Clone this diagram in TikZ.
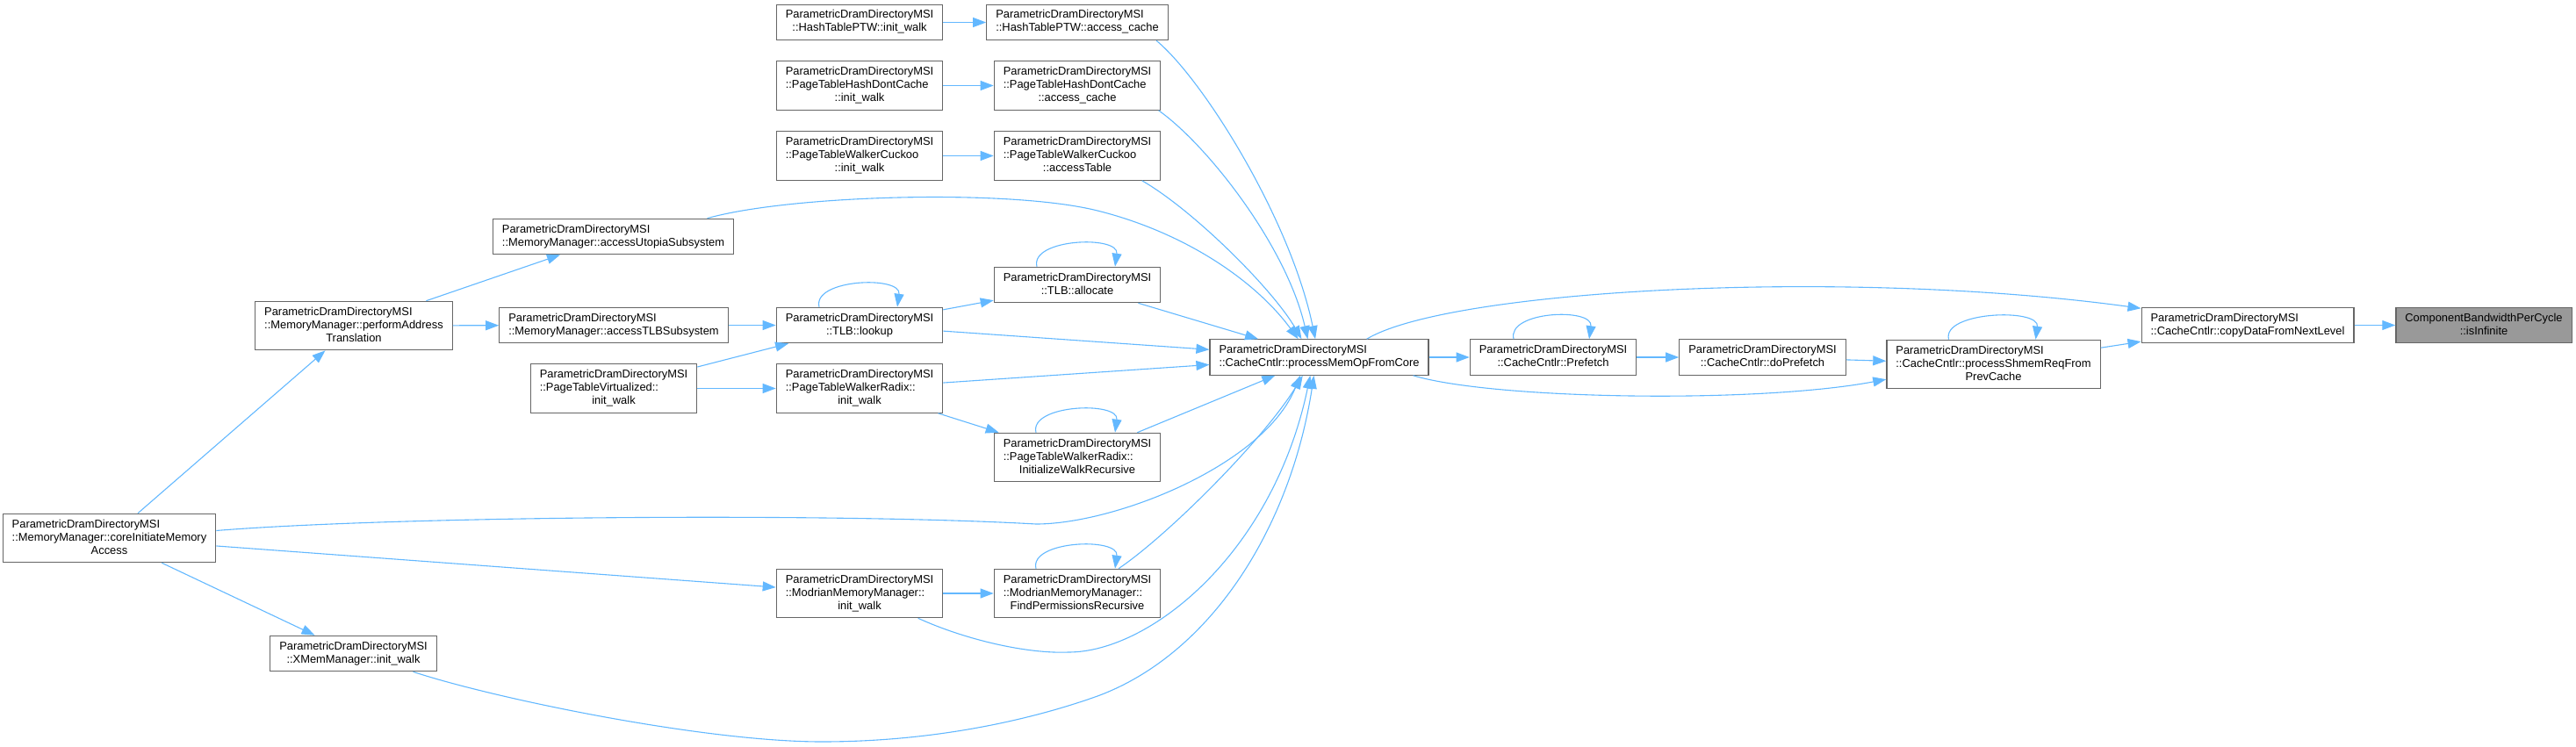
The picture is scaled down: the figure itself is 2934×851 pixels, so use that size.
\documentclass[tikz,border=0pt]{standalone}
\usepackage{fontspec}
\setmainfont{Liberation Sans}
\usepackage{tikz}
\usetikzlibrary{arrows.meta}
\definecolor{edgeBlue}{HTML}{63B8FF}
\definecolor{boxGrey}{HTML}{666666}
\definecolor{focusGrey}{HTML}{999999}
\newcommand{\fnlbl}[2]{\begin{tabular}{@{}l@{}}#1\\\multicolumn{1}{@{}c@{}}{#2}\end{tabular}}
\tikzset{
  fnode/.style={rectangle, draw=boxGrey, fill=white, line width=1.2pt,
                inner xsep=10.5pt, inner ysep=5.2pt,
                font=\fontsize{12.9}{15}\selectfont},
  fnodeF/.style={fnode, fill=focusGrey},
  call/.style={draw=edgeBlue, line width=1.1pt,
               -{Triangle[length=15pt, width=11pt]}},
}

\begin{document}
\begin{tikzpicture}[x=1pt, y=-1pt]
    \useasboundingbox (0,0) rectangle (2934,851);
    %% page table walkers
    \node[fnode] (hashWalk) at (979,25.5) {\fnlbl{ParametricDramDirectoryMSI}{::HashTablePTW::init\_walk}};
    \node[fnode] (hashCache) at (1227,25.5) {\fnlbl{ParametricDramDirectoryMSI}{::HashTablePTW::access\_cache}};
    \node[fnode] (dontWalk) at (979,97.5) {\fnlbl{ParametricDramDirectoryMSI\\::PageTableHashDontCache}{::init\_walk}};
    \node[fnode] (dontCache) at (1227,97.5) {\fnlbl{ParametricDramDirectoryMSI\\::PageTableHashDontCache}{::access\_cache}};
    \node[fnode] (cuckooWalk) at (979,177.5) {\fnlbl{ParametricDramDirectoryMSI\\::PageTableWalkerCuckoo}{::init\_walk}};
    \node[fnode] (cuckooTable) at (1227,177.5) {\fnlbl{ParametricDramDirectoryMSI\\::PageTableWalkerCuckoo}{::accessTable}};
    %% memory manager and TLB
    \node[fnode] (utopia) at (698.5,269.5) {\fnlbl{ParametricDramDirectoryMSI}{::MemoryManager::accessUtopiaSubsystem}};
    \node[fnode] (perform) at (403,371) {\fnlbl{ParametricDramDirectoryMSI\\::MemoryManager::performAddress}{Translation}};
    \node[fnode] (tlbSub) at (699,370.5) {\fnlbl{ParametricDramDirectoryMSI}{::MemoryManager::accessTLBSubsystem}};
    \node[fnode] (lookup) at (979,370.5) {\fnlbl{ParametricDramDirectoryMSI}{::TLB::lookup}};
    \node[fnode] (allocate) at (1227,324.5) {\fnlbl{ParametricDramDirectoryMSI}{::TLB::allocate}};
    \node[fnode] (virtWalk) at (699,442.5) {\fnlbl{ParametricDramDirectoryMSI\\::PageTableVirtualized::}{init\_walk}};
    \node[fnode] (radixWalk) at (979,442.5) {\fnlbl{ParametricDramDirectoryMSI\\::PageTableWalkerRadix::}{init\_walk}};
    \node[fnode] (radixInit) at (1227,521) {\fnlbl{ParametricDramDirectoryMSI\\::PageTableWalkerRadix::}{InitializeWalkRecursive}};
    \node[fnode] (coreAccess) at (124.5,613) {\fnlbl{ParametricDramDirectoryMSI\\::MemoryManager::coreInitiateMemory}{Access}};
    \node[fnode] (modrianWalk) at (979,676) {\fnlbl{ParametricDramDirectoryMSI\\::ModrianMemoryManager::}{init\_walk}};
    \node[fnode] (modrianFind) at (1227,676) {\fnlbl{ParametricDramDirectoryMSI\\::ModrianMemoryManager::}{FindPermissionsRecursive}};
    \node[fnode] (xmemWalk) at (402.5,744.5) {\fnlbl{ParametricDramDirectoryMSI}{::XMemManager::init\_walk}};
    %% cache controller
    \node[fnode] (memOp) at (1502.5,407) {\fnlbl{ParametricDramDirectoryMSI}{::CacheCntlr::processMemOpFromCore}};
    \node[fnode] (prefetch) at (1769,407) {\fnlbl{ParametricDramDirectoryMSI}{::CacheCntlr::Prefetch}};
    \node[fnode] (doPrefetch) at (2007.5,407) {\fnlbl{ParametricDramDirectoryMSI}{::CacheCntlr::doPrefetch}};
    \node[fnode] (shmemReq) at (2270.5,415) {\fnlbl{ParametricDramDirectoryMSI\\::CacheCntlr::processShmemReqFrom}{PrevCache}};
    \node[fnode] (copyNext) at (2560,370.5) {\fnlbl{ParametricDramDirectoryMSI}{::CacheCntlr::copyDataFromNextLevel}};
    \node[fnodeF] (isInf) at (2829,370.5) {\fnlbl{ComponentBandwidthPerCycle}{::isInfinite}};

    %% calls from the left
    \draw[call] (hashWalk) -- (hashCache);
    \draw[call] (dontWalk) -- (dontCache);
    \draw[call] (cuckooWalk) -- (cuckooTable);
    \draw[call] (hashCache.-13) .. controls (1370,90) and (1470,250) .. (memOp.102.7);
    \draw[call] (dontCache.-17.8) .. controls (1375,165) and (1465,280) .. (memOp.122);
    \draw[call] (cuckooTable.-21.1) .. controls (1360,240) and (1450,330) .. (memOp.134.3);
    \draw[call] (utopia.11) .. controls (900,222) and (1150,215) .. (1250,240)
        .. controls (1350,265) and (1430,320) .. (memOp.139.6);
    \draw[call] (perform) -- (utopia);
    \draw[call] (perform) -- (tlbSub);
    \draw[call] (tlbSub) -- (lookup);
    \draw[call] (lookup) -- (allocate);
    \draw[call] (lookup) -- (memOp);
    \draw[call] (allocate) -- (memOp);
    \draw[call] (virtWalk) -- (lookup);
    \draw[call] (virtWalk) -- (radixWalk);
    \draw[call] (radixWalk) -- (memOp);
    \draw[call] (radixWalk) -- (radixInit);
    \draw[call] (radixInit) -- (memOp);
    \draw[call] (coreAccess) -- (perform);
    \draw[call] (coreAccess) -- (modrianWalk);
    \draw[call] (coreAccess) -- (xmemWalk);
    \draw[call] (coreAccess.4.3) .. controls (450,588) and (950,584) .. (1180,597)
        .. controls (1270,597) and (1440,530) .. (memOp.224.3);
    \draw[call] (modrianWalk) -- (modrianFind);
    \draw[call] (modrianWalk.-23.6) .. controls (1100,729) and (1170,745) .. (1217,743)
        .. controls (1310,743) and (1450,630) .. (memOp.244.6);
    \draw[call] (modrianFind.31.3) .. controls (1330,610) and (1440,500) .. (memOp.228.8);
    \draw[call] (xmemWalk.-17.9) .. controls (560,795) and (800,845) .. (936,845)
        .. controls (1070,845) and (1180,818) .. (1250,793)
        .. controls (1380,745) and (1470,600) .. (memOp.254.6);
    %% recursive calls
    \draw[call] ([xshift=-46pt]lookup.north) .. controls +(-8,-32) and +(5,-36) .. ([xshift=43pt]lookup.north);
    \draw[call] ([xshift=-46pt]allocate.north) .. controls +(-8,-32) and +(5,-36) .. ([xshift=43pt]allocate.north);
    \draw[call] ([xshift=-47pt]radixInit.north) .. controls +(-8,-32) and +(5,-36) .. ([xshift=43pt]radixInit.north);
    \draw[call] ([xshift=-47pt]modrianFind.north) .. controls +(-8,-32) and +(5,-36) .. ([xshift=43pt]modrianFind.north);
    \draw[call] ([xshift=-45pt]prefetch.north) .. controls +(-8,-32) and +(5,-36) .. ([xshift=41pt]prefetch.north);
    \draw[call] ([xshift=-51pt]shmemReq.north) .. controls +(-8,-32) and +(5,-36) .. ([xshift=48pt]shmemReq.north);
    %% cache controller chain
    \draw[call] (memOp) -- (prefetch);
    \draw[call] (prefetch) -- (doPrefetch);
    \draw[call] (doPrefetch) -- (shmemReq);
    \draw[call] (memOp.-11.9) .. controls (1700,455) and (2000,460) .. (shmemReq.188.6);
    \draw[call] (memOp.21.6) .. controls (1650,330) and (2100,305) .. (copyNext.171.8);
    \draw[call] (shmemReq) -- (copyNext);
    \draw[call] (copyNext) -- (isInf);
\end{tikzpicture}
\end{document}
